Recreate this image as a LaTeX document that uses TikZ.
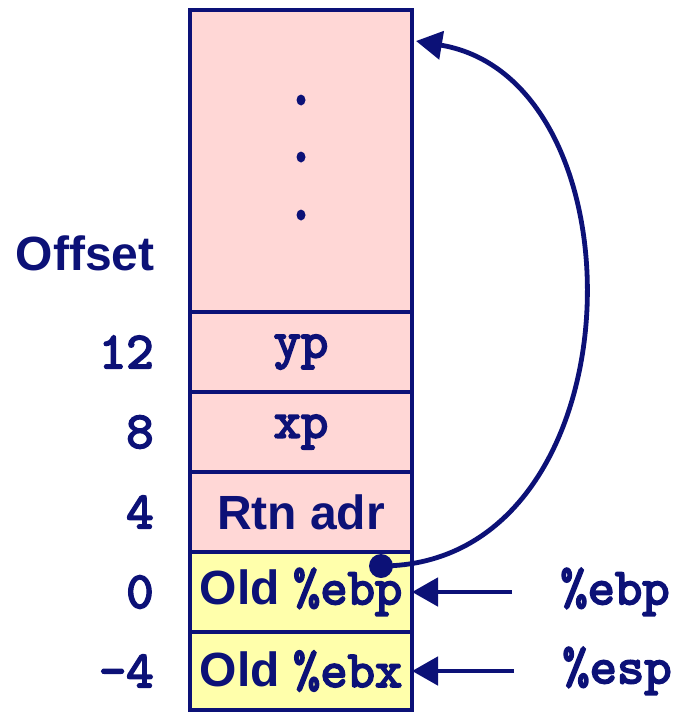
\documentclass[tikz,border=0pt]{standalone}
\usepackage{fontspec}
\setmainfont{Liberation Sans}
\setmonofont{lmmono10-regular}[Extension=.otf, AutoFakeBold=3.5]
\usepackage{tikz}
\usetikzlibrary{calc,positioning,arrows.meta}
\definecolor{highlightcolorc}{HTML}{0C1177}
\definecolor{pinkc}{HTML}{FFD7D6}
\definecolor{yellowc}{HTML}{FFFFAB}
\colorlet{framecolor}{highlightcolorc}
\colorlet{textcolor}{highlightcolorc}
\newcommand{\regname}[1]{{\fontsize{26}{26}\selectfont\ttfamily\bfseries #1}}
\tikzstyle{cell} = [
    draw=framecolor,
    fill=pinkc,
    line width=2.2pt,
    rectangle,
    outer sep=0pt,
    minimum width=111pt,
    minimum height=40pt,
    text=textcolor,
    font=\fontsize{24}{24}\selectfont\bfseries
    ]
\tikzstyle{savedcell} = [
    cell,
    fill=yellowc
    ]
\tikzstyle{offlabel} = [
    text=textcolor,
    inner sep=0pt,
    font=\fontsize{26}{26}\selectfont\ttfamily\bfseries
    ]
\tikzstyle{ptr} = [
    draw=framecolor,
    line width=2.4pt,
    -{Triangle[length=13pt,width=14pt]}
    ]

\begin{document}
\begin{tikzpicture}[x=0.5pt,y=-0.5pt]
\useasboundingbox (0,0) rectangle (683,712);
% stack frame
\node[cell, minimum height=151pt] (top) at (301,161) {};
\node[cell, below=0pt of top] (yp) {\regname{yp}};
\node[cell, below=0pt of yp] (xp) {\regname{xp}};
\node[cell, below=0pt of xp] (rtn) {Rtn adr};
\node[savedcell, below=0pt of rtn] (oldebp) {Old \regname{\%ebp}};
\node[savedcell, minimum height=39pt, below=0pt of oldebp] (oldebx) {Old \regname{\%ebx}};

\foreach \d in {90,147,205}
    \fill[framecolor] ($(top.north)+(0,\d)$) ellipse (4.5 and 5.5);

% offsets
\node[offlabel, font=\fontsize{24}{24}\selectfont\bfseries, anchor=east] (offset)
    at ($(top.south west)+(-35,-59)$) {Offset};
\node[offlabel, left=18pt of yp] (o12) {12};
\node[offlabel, left=18pt of xp] (o8) {8};
\node[offlabel, left=18pt of rtn] (o4) {4};
\node[offlabel, left=18pt of oldebp] (o0) {0};
\node[offlabel, left=18pt of oldebx] (om4) {-4};

% registers
\node[offlabel, right=74pt of oldebp] (ebp) {\%ebp};
\node[offlabel, right=75pt of oldebx] (esp) {\%esp};
\draw[ptr, shorten <=24pt] (ebp.west) -- (ebp.west -| oldebp.east);
\draw[ptr, shorten <=24pt] (esp.west) -- (esp.west -| oldebx.east);

% saved frame pointer
\coordinate (bp) at ($(oldebp.north east)+(-31,14)$);
\coordinate (ret) at ($(top.north east)+(4,31)$);
\draw[ptr] (bp) .. controls +(259,0) and +(234,39) .. (ret);
\fill[framecolor] (bp) circle (12);
\end{tikzpicture}
\end{document}
